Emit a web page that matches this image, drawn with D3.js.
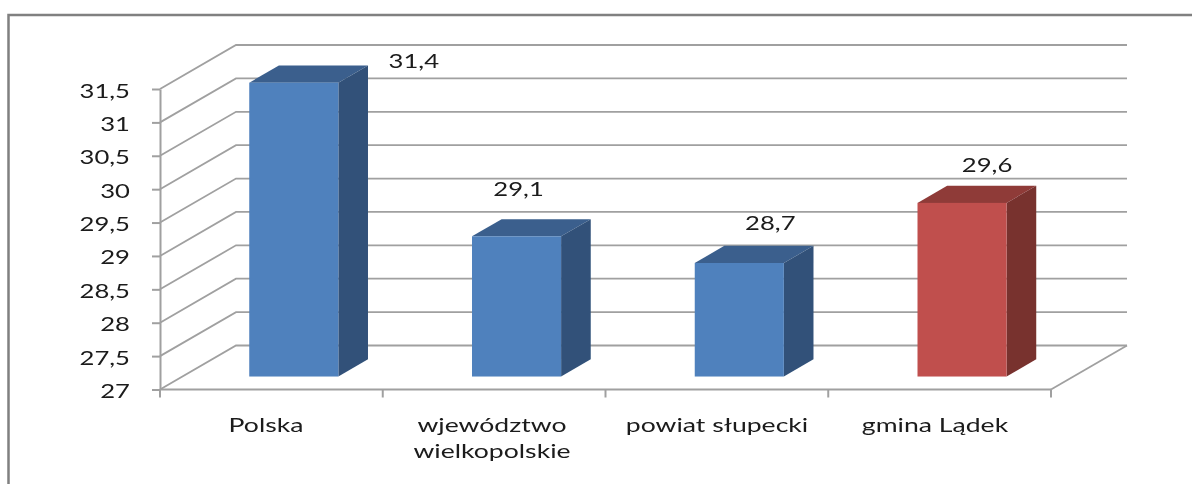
<!DOCTYPE html>
<html>
<head>
<meta charset="utf-8">
<script src="https://cdn.jsdelivr.net/npm/d3@7"></script>
<style>
  html, body { margin: 0; padding: 0; background: #fff; }
  svg { display: block; }
  text { font-family: Lato, sans-serif; fill: #1a1a1a; }
</style>
</head>
<body>
<div id="chart"></div>
<script>
var categories = ["Polska", "wjewództwo wielkopolskie", "powiat słupecki", "gmina Lądek"];
var values = [31.4, 29.1, 28.7, 29.6];
var tickValues = [27, 27.5, 28, 28.5, 29, 29.5, 30, 30.5, 31, 31.5];

// bar colours: front, top, side
var blueBar = ["#4f81bd", "#3b5f8d", "#315179"];
var redBar = ["#c0504d", "#8f3a38", "#78302e"];
var barColors = [blueBar, blueBar, blueBar, redBar];

// label nudges from the top centre of the bar
var labelShift = [[120, -15], [2, -40], [31, -33], [25, -31]];
var labelCx = [266, 492, 717, 935];

var width = 1192, height = 484;
var comma = function(v) { return String(v).replace(".", ","); };

var svg = d3.select("#chart")
  .append("svg")
    .attr("width", width)
    .attr("height", height);

svg.append("defs").append("filter").attr("id", "soft")
  .append("feGaussianBlur").attr("stdDeviation", 0.45);

var root = svg.append("g").attr("filter", "url(#soft)");

// outer frame, cut off by the picture on the right and bottom
root.append("path")
  .attr("d", "M8.5," + (height + 5) + "V15H" + (width + 5))
  .attr("fill", "none")
  .attr("stroke", "#808080")
  .attr("stroke-width", 2.5);

var x = d3.scaleBand().domain(categories).range([160, 1051]);
var y = d3.scaleLinear().domain([27, 31.5]).range([389.5, 89]);

// depth of the 3d box
var depthX = 76, depthY = -44;
var px = function(xv, z) { return xv + z * depthX; };
var py = function(yv, z) { return yv + z * depthY; };

var gridColor = "#a0a0a0";

// walls
root.append("g").selectAll("path")
  .data(tickValues)
  .enter()
  .append("path")
    .attr("fill", "none")
    .attr("stroke", gridColor)
    .attr("stroke-width", 1.8)
    .attr("d", function(d) {
      return "M160," + y(d) + "L" + px(160, 1) + "," + py(y(d), 1) + "H" + px(1051, 1);
    });

// floor edge on the right
root.append("line")
  .attr("x1", 1051).attr("y1", y(27))
  .attr("x2", px(1051, 1)).attr("y2", py(y(27), 1))
  .attr("stroke", gridColor)
  .attr("stroke-width", 1.8);

// y axis
var yAxis = d3.axisLeft(y)
  .tickValues(tickValues)
  .tickFormat(comma)
  .tickSize(8)
  .tickSizeOuter(0);

var yG = root.append("g").attr("transform", "translate(160,0)").call(yAxis);
yG.select(".domain").attr("stroke", gridColor).attr("stroke-width", 2);
yG.selectAll(".tick line").attr("stroke", gridColor).attr("stroke-width", 2);
yG.selectAll(".tick text")
  .attr("x", 0)
  .attr("dy", 0)
  .attr("text-anchor", "end")
  .attr("font-size", 19)
  .style("font-family", "Lato, sans-serif")
  .attr("transform", "translate(-30,8) scale(1.35,1)");

// x axis with ticks between the categories
var xG = root.append("g");
xG.append("line")
  .attr("x1", 160).attr("x2", 1051)
  .attr("y1", y(27)).attr("y2", y(27))
  .attr("stroke", gridColor).attr("stroke-width", 2);
xG.selectAll("line.tick")
  .data(categories.map(function(c) { return x(c); }).concat([1051]))
  .enter()
  .append("line")
    .attr("class", "tick")
    .attr("x1", function(d) { return d; })
    .attr("x2", function(d) { return d; })
    .attr("y1", y(27))
    .attr("y2", y(27) + 8)
    .attr("stroke", gridColor)
    .attr("stroke-width", 2);

// bars take the middle 40% of a band, front 0.295 into the box, 0.39 deep
var zFront = 0.295, zDepth = 0.39;
var barW = x.bandwidth() * 0.4;
var barDx = zDepth * depthX, barDy = zDepth * depthY;
var barLeft = function(c) { return px(x(c) + x.bandwidth() * 0.3, zFront); };
var barTop = function(i) { return py(y(values[i]), zFront); };
var barBottom = py(y(27), zFront);

var bars = root.append("g").selectAll("g")
  .data(categories)
  .enter()
  .append("g");

bars.append("path")   // top
  .attr("fill", function(d, i) { return barColors[i][1]; })
  .attr("d", function(c, i) {
    return "M" + barLeft(c) + "," + barTop(i) + "h" + barW + "l" + barDx + "," + barDy + "h" + (-barW) + "Z";
  });

bars.append("path")   // side
  .attr("fill", function(d, i) { return barColors[i][2]; })
  .attr("d", function(c, i) {
    return "M" + (barLeft(c) + barW) + "," + barTop(i) + "l" + barDx + "," + barDy +
      "V" + (barBottom + barDy) + "l" + (-barDx) + "," + (-barDy) + "Z";
  });

bars.append("rect")   // front
  .attr("fill", function(d, i) { return barColors[i][0]; })
  .attr("x", function(c) { return barLeft(c); })
  .attr("y", function(c, i) { return barTop(i); })
  .attr("width", barW)
  .attr("height", function(c, i) { return barBottom - barTop(i); });

// value labels
bars.append("text")
  .attr("text-anchor", "middle")
  .attr("font-size", 19)
  .attr("transform", function(c, i) {
    var cx = barLeft(c) + barW / 2 + labelShift[i][0];
    var cy = barTop(i) + labelShift[i][1];
    return "translate(" + cx + "," + cy + ") scale(1.35,1)";
  })
  .text(function(c, i) { return comma(values[i]); });

// category labels, the long one wraps on two lines
var catLabels = root.append("g").selectAll("text")
  .data(categories)
  .enter()
  .append("text")
    .attr("text-anchor", "middle")
    .attr("font-size", 19)
    .attr("transform", function(c, i) { return "translate(" + labelCx[i] + ",432) scale(1.4,1)"; });

catLabels.each(function(c) {
  var lines = c.indexOf("wielkopolskie") > -1 ? c.split(" ") : [c];
  d3.select(this).selectAll("tspan")
    .data(lines)
    .enter()
    .append("tspan")
      .attr("x", 0)
      .attr("dy", function(d, i) { return i ? 26.5 : 0; })
      .text(function(d) { return d; });
});
</script>
</body>
</html>
